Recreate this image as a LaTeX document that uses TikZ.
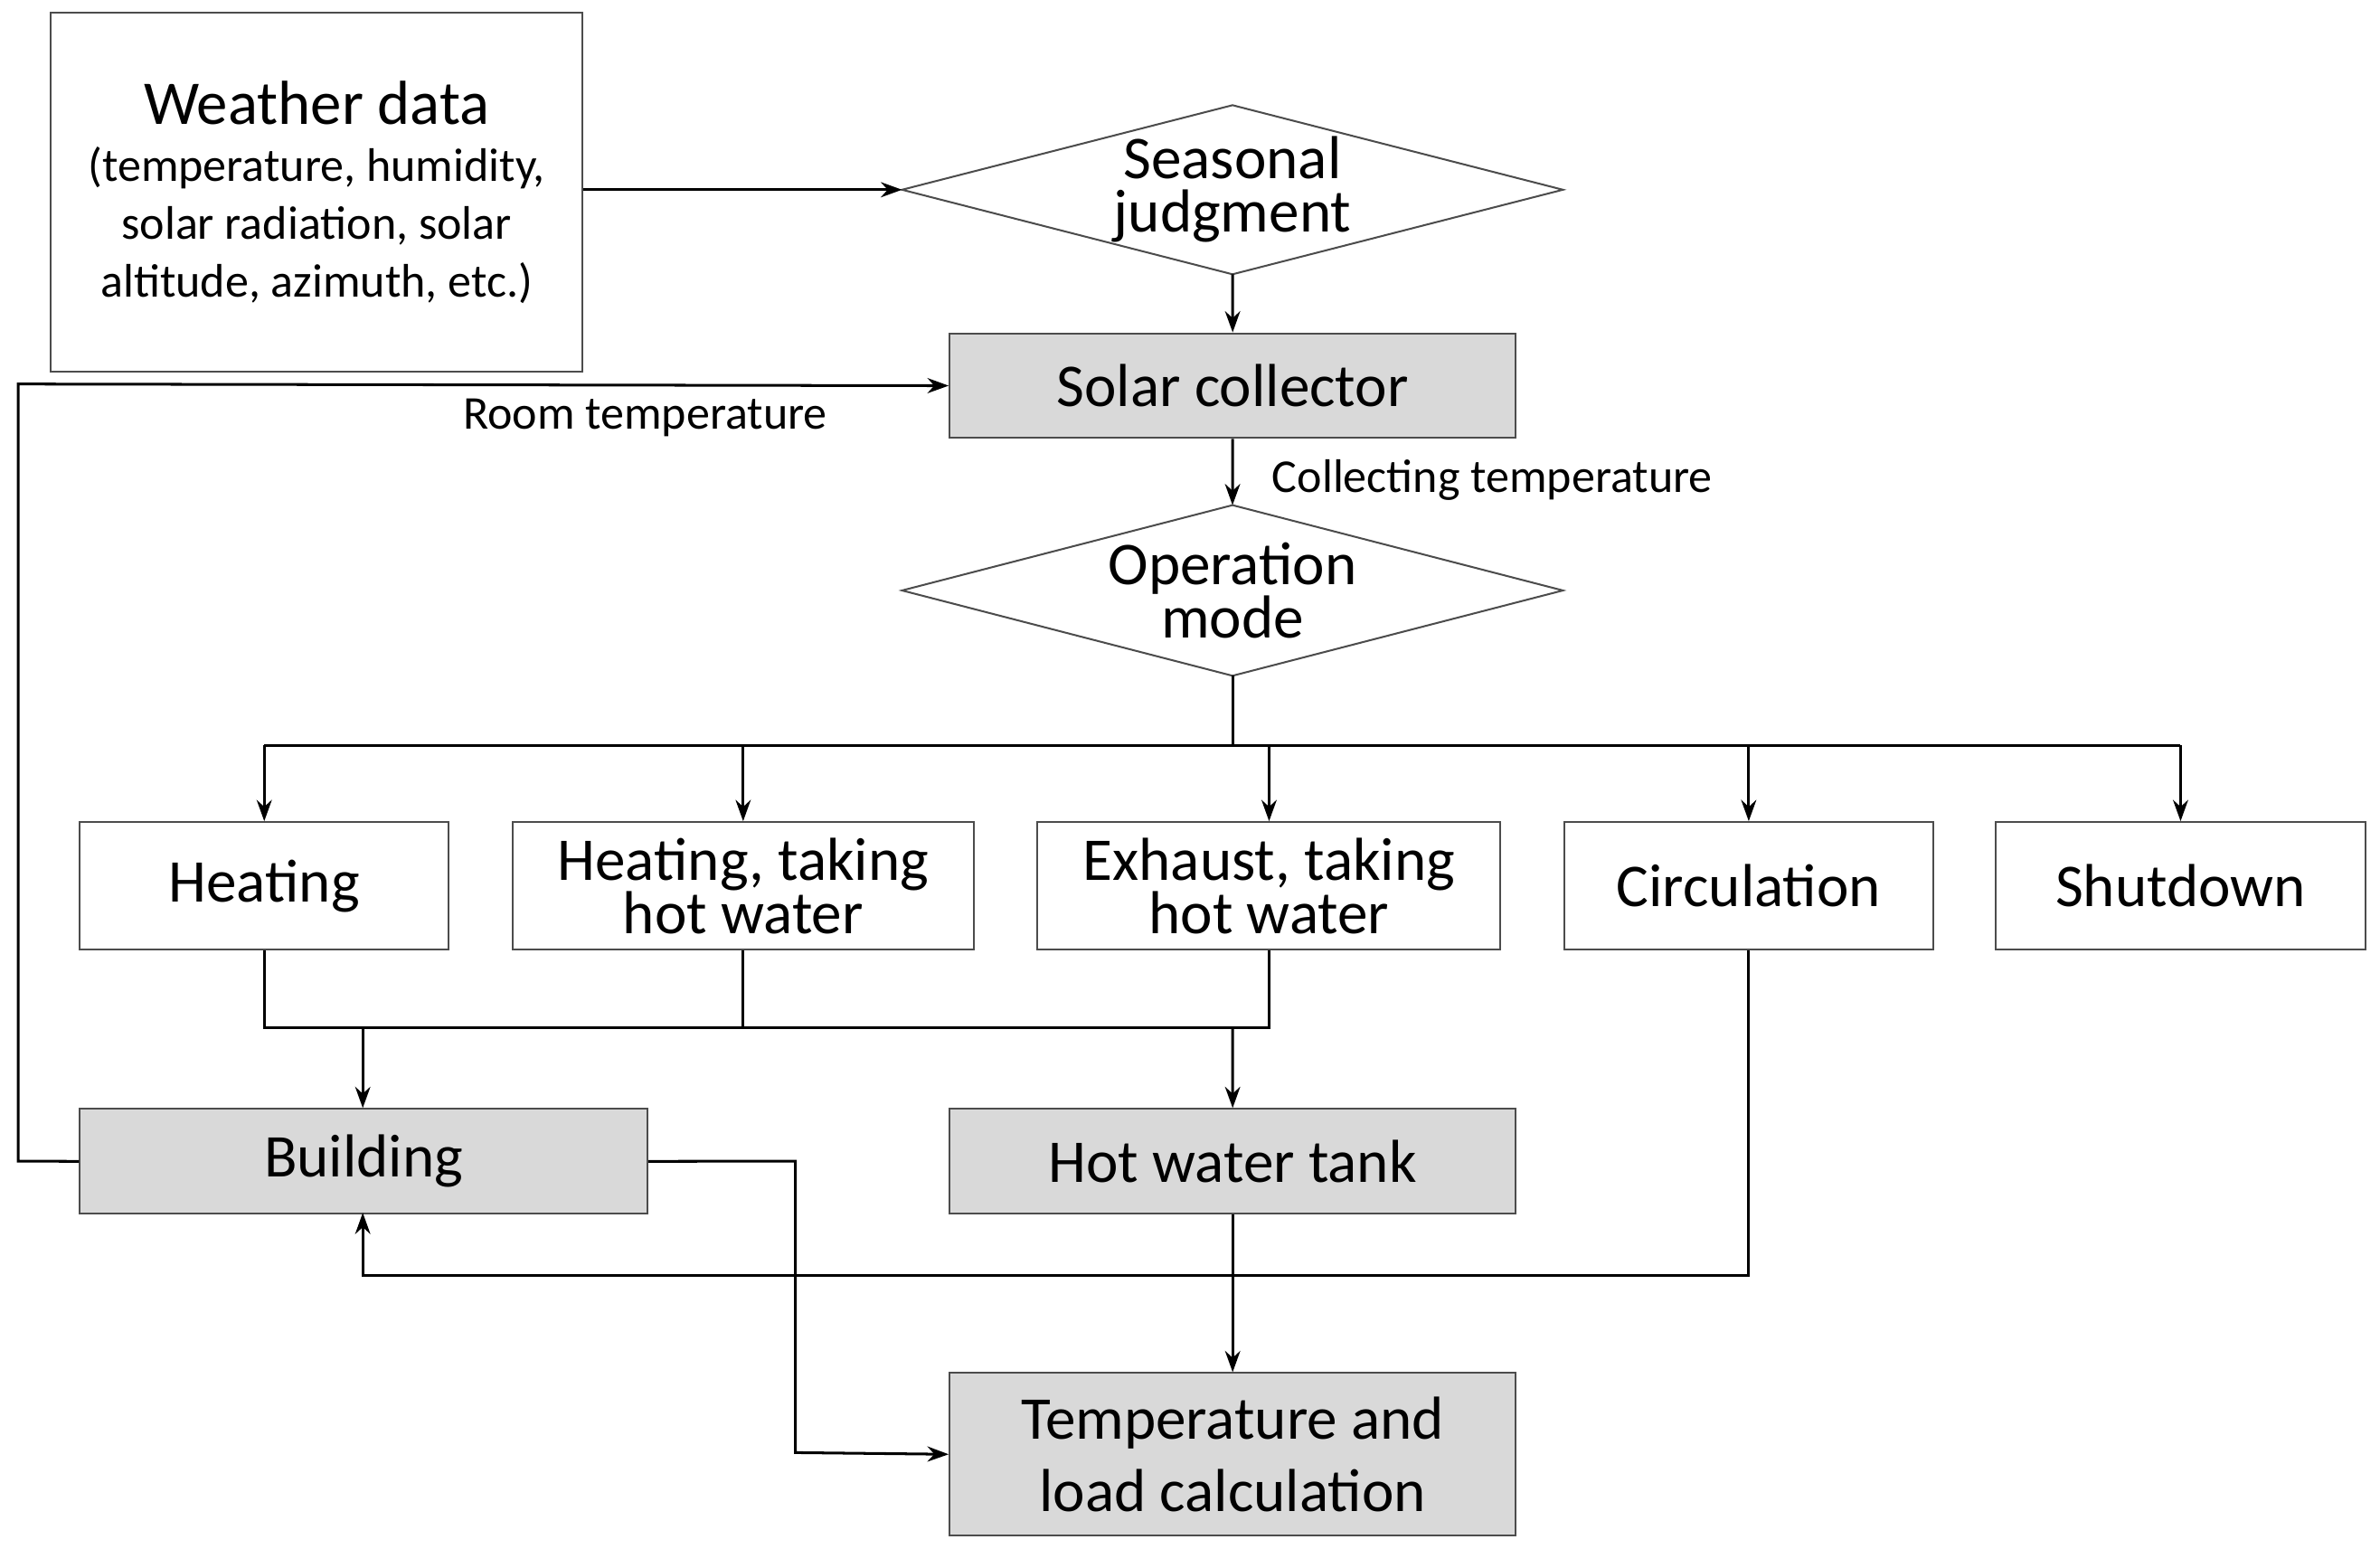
\documentclass[tikz,border=0pt]{standalone}
\usepackage{fontspec}
\setmainfont{Carlito}
\usetikzlibrary{shapes.geometric,arrows.meta}
\begin{document}
\begin{tikzpicture}[x=1pt,y=-1pt,
 box/.style={draw=black!70,line width=1.2pt,anchor=north west,inner sep=0pt,align=center,font=\fontsize{40}{35}\selectfont},
 gbox/.style={box,fill=black!15},
 dia/.style={inner sep=0pt,align=center,font=\fontsize{40}{35}\selectfont},
 dpath/.style={draw=black!70,line width=1.2pt},
 line/.style={line width=1.8pt},
 arr/.style={line,-{Stealth[length=14pt,width=10pt]}},
 lab/.style={font=\fontsize{31}{32}\selectfont,inner sep=0pt}]
\useasboundingbox (0,0) rectangle (1568,1020);
\node[box,minimum width=350pt,minimum height=236pt,font=\fontsize{31}{38}\selectfont] (w) at (33,8) {{\fontsize{41}{46}\selectfont Weather data}\\(temperature, humidity,\\solar radiation, solar\\altitude, azimuth, etc.)};
\node[dia,minimum width=435pt,minimum height=111pt] (s) at (812,125) {Seasonal\\judgment};
\draw[dpath] (s.north) -- (s.east) -- (s.south) -- (s.west) -- cycle;
\node[gbox,minimum width=373pt,minimum height=69pt] (sc) at (625,219) {Solar collector};
\node[dia,minimum width=435pt,minimum height=112pt] (om) at (812,389) {Operation\\mode};
\draw[dpath] (om.north) -- (om.east) -- (om.south) -- (om.west) -- cycle;
\node[box,minimum width=243pt,minimum height=84pt] (h) at (52,541) {Heating};
\node[box,minimum width=304pt,minimum height=84pt] (htw) at (337,541) {Heating, taking\\hot water};
\node[box,minimum width=305pt,minimum height=84pt] (ex) at (683,541) {Exhaust, taking\\hot water};
\node[box,minimum width=243pt,minimum height=84pt] (ci) at (1030,541) {Circulation};
\node[box,minimum width=244pt,minimum height=84pt] (sd) at (1314,541) {Shutdown};
\node[gbox,minimum width=374pt,minimum height=69pt] (b) at (52,730) {Building};
\node[gbox,minimum width=373pt,minimum height=69pt] (t) at (625,730) {Hot water tank};
\node[gbox,minimum width=373pt,minimum height=107pt,font=\fontsize{40}{48}\selectfont] (tl) at (625,904) {Temperature and\\load calculation};
\coordinate (bus) at (812,491);
\coordinate (j) at (174,677);
\draw[arr] (w.east |- s) -- (s.west);
\draw[arr] (s.south) -- (sc.north);
\draw[arr] (sc.south) -- (om.north);
\node[lab,anchor=west] (ct) at (838,316) {Collecting temperature};
\draw[line] (om.south) -- (bus);
\draw[line] (h.north |- bus) -- (sd.north |- bus);
\foreach \n in {h,htw,ex,ci,sd} \draw[arr] (\n.north |- bus) -- (\n.north);
\draw[line] (h.south) -- (h.south |- j) -- (ex.south |- j) -- (ex.south);
\draw[line] (htw.south) -- (htw.south |- j);
\draw[arr] (239,677) -- (239,730);
\draw[arr] (812,677) -- (t.north);
\draw[arr] (ci.south) -- (ci.south |- 0,840) -- (239,840) -- (239,799);
\draw[arr] (b.east) -- (524,765) -- (524,957) -- (tl.west);
\draw[arr] (t.south) -- (tl.north);
\draw[arr] (b.west) -- (12,765) -- (12,253) -- (sc.west);
\node[lab] (rt) at (425,275) {Room temperature};
\end{tikzpicture}
\end{document}
